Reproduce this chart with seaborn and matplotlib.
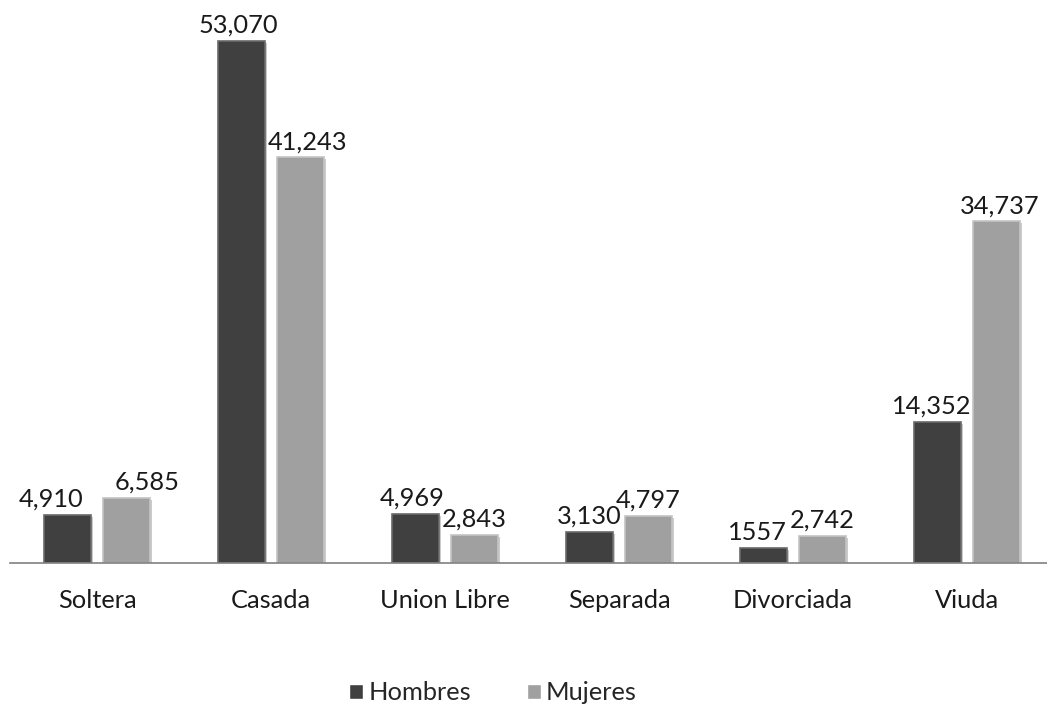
import matplotlib
matplotlib.use('Agg')
import matplotlib.pyplot as plt
import matplotlib.patheffects as pe
import pandas as pd
import seaborn as sns

categorias = ['Soltera', 'Casada', 'Union Libre', 'Separada', 'Divorciada', 'Viuda']
hombres = [4910, 53070, 4969, 3130, 1557, 14352]
mujeres = [6585, 41243, 2843, 4797, 2742, 34737]
etiq_hombres = ['4,910', '53,070', '4,969', '3,130', '1557', '14,352']
etiq_mujeres = ['6,585', '41,243', '2,843', '4,797', '2,742', '34,737']

df = pd.DataFrame({
    'cat': categorias * 2,
    'sexo': ['Hombres'] * 6 + ['Mujeres'] * 6,
    'valor': hombres + mujeres,
})

sns.set_theme(style='white')
plt.rcParams['font.family'] = ['Lato', 'DejaVu Sans']

fig = plt.figure(figsize=(10.47, 7.13), dpi=100)
ax = fig.add_axes([10 / 1047, 150 / 713, 1044 / 1047, 563 / 713])

sns.barplot(data=df, x='cat', y='valor', hue='sexo', order=categorias,
            palette={'Hombres': '#404040', 'Mujeres': '#a0a0a0'},
            width=0.68, gap=0.2, ax=ax, legend=True)

shadow = [pe.SimplePatchShadow(offset=(1.5, -1.5), shadow_rgbFace='#999999', alpha=0.5), pe.Normal()]
for cont, col in zip(ax.containers, ['#6a6a6a', '#c4c4c4']):
    for p in cont:
        p.set_edgecolor(col)
        p.set_linewidth(1.2)
        p.set_path_effects(shadow)

# etiquetas; desplazamiento extra donde chocan (Soltera)
dx_h = [-12, -2, -2, 0, -4, -4]
dx_m = [15, 5, 0, 0, 0, 2]
for cont, labels, dxs in zip(ax.containers, [etiq_hombres, etiq_mujeres], [dx_h, dx_m]):
    for p, lab, dx in zip(cont, labels, dxs):
        ax.annotate(lab, (p.get_x() + p.get_width() / 2, p.get_height()),
                    xytext=(dx, 3), textcoords='offset points',
                    ha='center', va='bottom', fontsize=18.3, color='#1a1a1a')

ax.set_xlim(-0.5, 5.5)
ax.set_ylim(0, 57240)
ax.set_xlabel('')
ax.set_ylabel('')
ax.set_yticks([])
ax.tick_params(axis='x', length=0, pad=19, labelsize=18.3, labelcolor='#1a1a1a')
for s in ['top', 'left', 'right']:
    ax.spines[s].set_visible(False)
ax.spines['bottom'].set_color('#808080')
ax.spines['bottom'].set_linewidth(1.2)

leg = ax.legend(loc='center', bbox_to_anchor=(493 / 1047, 20 / 713), bbox_transform=fig.transFigure,
                ncol=2, frameon=False, fontsize=18.3, handlelength=0.55, handleheight=0.55,
                handletextpad=0.2, columnspacing=2.2)
for h in leg.legend_handles:
    h.set_path_effects([])

fig.savefig('out.png', dpi=100)
